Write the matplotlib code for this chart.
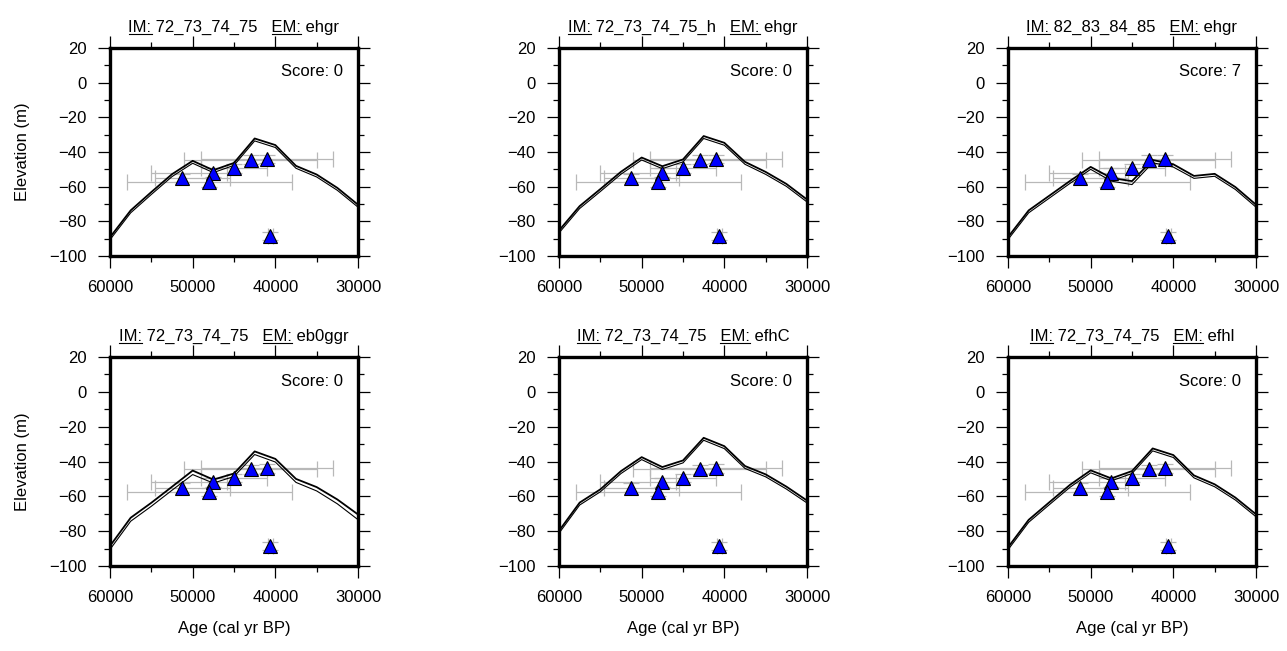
import matplotlib
matplotlib.use("Agg")
import matplotlib.pyplot as plt
from matplotlib.ticker import MultipleLocator, FixedLocator

plt.rcParams['font.family'] = ['Liberation Sans', 'DejaVu Sans']
plt.rcParams['font.size'] = 12

# ---------------- data ----------------
model_ages = [60000, 57500, 55000, 52500, 50000, 47500, 45000, 42500,
              40000, 37500, 35000, 32500, 30000]

upper_1 = [-89.2, -73.7, -63.1, -52.8, -45.1, -50.5, -46.3, -32.2, -36.0, -48.0, -53.0, -60.7, -70.4]
lower_1 = [-90.6, -75.1, -64.5, -54.2, -46.5, -51.9, -47.7, -33.6, -37.4, -49.4, -54.4, -62.1, -71.8]
upper_2 = [-85.3, -71.2, -61.4, -51.4, -43.2, -48.2, -44.3, -30.8, -34.7, -45.7, -51.5, -58.4, -67.4]
lower_2 = [-86.7, -72.6, -62.8, -52.8, -44.6, -49.6, -45.7, -32.2, -36.1, -47.1, -52.9, -59.8, -68.8]
upper_3 = [-89.1, -73.7, -65.2, -56.7, -48.6, -55.0, -56.8, -44.6, -47.1, -53.8, -52.6, -60.2, -70.4]
lower_3 = [-90.5, -75.1, -66.6, -58.1, -50.0, -56.8, -58.8, -46.2, -48.7, -55.2, -54.0, -61.6, -71.8]
upper_4 = [-88.5, -72.3, -63.7, -54.5, -45.2, -50.4, -46.9, -34.2, -38.5, -50.0, -54.7, -61.8, -70.4]
lower_4 = [-90.5, -74.3, -65.7, -56.5, -47.5, -52.4, -48.6, -36.0, -40.3, -52.0, -56.9, -64.3, -73.4]
upper_5 = [-79.8, -63.6, -56.0, -45.5, -37.5, -43.2, -39.4, -26.4, -31.2, -42.6, -47.4, -54.4, -62.4]
lower_5 = [-81.2, -65.0, -57.4, -46.9, -38.9, -44.6, -40.8, -27.8, -32.6, -44.0, -48.8, -55.8, -63.8]
upper_6 = [-89.3, -73.5, -63.4, -53.4, -45.1, -49.7, -45.5, -32.5, -36.3, -48.0, -53.1, -60.7, -70.3]
lower_6 = [-90.7, -74.9, -64.8, -54.8, -46.5, -51.1, -46.9, -33.9, -37.7, -49.4, -54.5, -62.1, -71.7]

# observed sea-level indicators (same in every panel)
obs_age = [51300, 47600, 48000, 45000, 43000, 41000, 40600]
obs_elev = [-55.0, -52.0, -57.5, -49.5, -44.5, -44.0, -88.5]
obs_age_older = [3300, 7400, 10000, 4000, 8000, 8000, 300]
obs_age_younger = [5800, 1800, 10000, 4000, 8000, 8000, 300]
obs_elev_err = [2.5, 2.5, 2.5, 2.5, 2.5, 2.5, 2.5]

im_labels = ["72_73_74_75", "72_73_74_75_h", "82_83_84_85",
             "72_73_74_75", "72_73_74_75", "72_73_74_75"]
em_labels = ["ehgr", "ehgr", "ehgr", "eb0ggr", "efhC", "efhl"]
scores = [0, 0, 7, 0, 0, 0]
uppers = [upper_1, upper_2, upper_3, upper_4, upper_5, upper_6]
lowers = [lower_1, lower_2, lower_3, lower_4, lower_5, lower_6]

x_ticks = [60000, 50000, 40000, 30000]
y_ticks = [20, 0, -20, -40, -60, -80, -100]

# ---------------- layout ----------------
W, H = 1287, 651
fig = plt.figure(figsize=(W / 100, H / 100), dpi=100)

col_left = [110, 559, 1008]
row_top = [48, 357]
row_bot = [256, 566]
ax_w = 248

axes = []
for r in range(2):
    for c in range(3):
        l = col_left[c] / W
        b = 1 - row_bot[r] / H
        h = (row_bot[r] - row_top[r]) / H
        ax = fig.add_axes([l, b, ax_w / W, h])
        axes.append((ax, r, c))

fig.canvas.draw()
renderer = fig.canvas.get_renderer()


def text_width(s):
    t = fig.text(0, 0, s, fontsize=12)
    w = t.get_window_extent(renderer).width
    t.remove()
    return w


for i, (ax, r, c) in enumerate(axes):
    ax.set_xlim(60000, 30000)
    ax.set_ylim(-100, 20)

    ax.errorbar(obs_age, obs_elev,
                xerr=[obs_age_younger, obs_age_older], yerr=obs_elev_err,
                fmt='none', ecolor='#b8b8b8', elinewidth=0.9, capsize=5.5,
                capthick=0.9, zorder=2)
    ax.plot(model_ages, lowers[i], color='black', lw=0.8, zorder=3)
    ax.plot(model_ages, uppers[i], color='black', lw=1.3, zorder=3)
    ax.plot(obs_age, obs_elev, linestyle='none', marker='^', markersize=10,
            markerfacecolor='#0000ff', markeredgecolor='black',
            markeredgewidth=0.8, zorder=4)

    ax.xaxis.set_major_locator(FixedLocator(x_ticks))
    ax.xaxis.set_minor_locator(MultipleLocator(5000))
    ax.yaxis.set_major_locator(FixedLocator(y_ticks))
    ax.yaxis.set_minor_locator(MultipleLocator(10))
    ax.tick_params(which='both', direction='out', top=True, right=True,
                   width=0.9, colors='black', labelsize=12)
    ax.tick_params(which='major', length=8.5, pad=8.5)
    ax.tick_params(which='minor', length=4.5)
    for sp in ax.spines.values():
        sp.set_linewidth(2.4)

    ax.text(1 - 15 / ax_w, 1 - (76.5 - 48) / 208, f"Score: {scores[i]}",
            transform=ax.transAxes, ha='right', va='baseline', fontsize=12)

    # title with underlined "IM:" and "EM:"
    cx = (col_left[c] + ax_w / 2)
    base_y = row_top[r] - 16.5
    prefix = f"IM: {im_labels[i]}   "
    full = prefix + f"EM: {em_labels[i]}"
    t = fig.text(cx / W, 1 - base_y / H, full, ha='center', va='baseline',
                 fontsize=12)
    bb = t.get_window_extent(renderer)
    x0 = bb.x0
    w_im = text_width("IM:")
    w_em = text_width("EM:")
    x_em = x0 + text_width(prefix + "EM:") - w_em
    uy = H - (base_y + 2.0)
    for xs, ws in ((x0, w_im), (x_em, w_em)):
        fig.add_artist(plt.Line2D([xs / W, (xs + ws) / W], [uy / H, uy / H],
                                  color='black', lw=0.8,
                                  transform=fig.transFigure))

    if c == 0:
        yc = (row_top[r] + row_bot[r]) / 2
        fig.text(22 / W, 1 - yc / H, "Elevation (m)", rotation=90,
                 ha='center', va='center', fontsize=12)
    if r == 1:
        fig.text(cx / W, 1 - 629 / H, "Age (cal yr BP)", ha='center',
                 va='center', fontsize=12)

fig.savefig("out.png", dpi=100)
